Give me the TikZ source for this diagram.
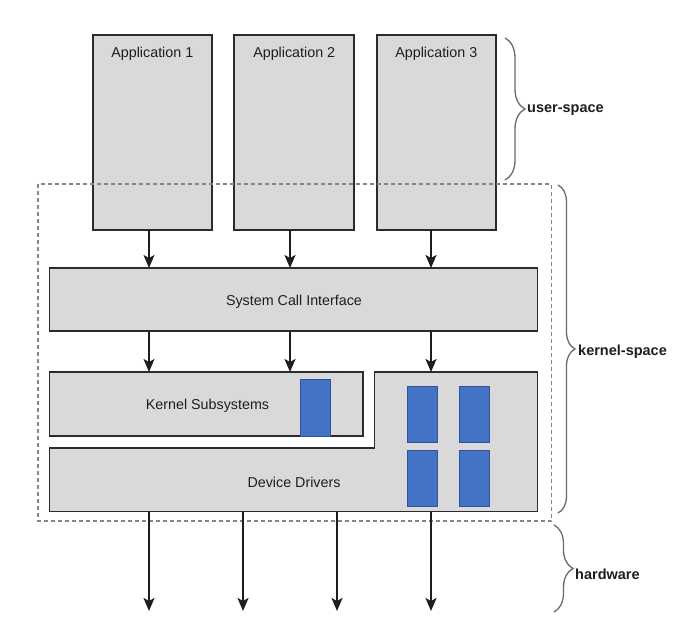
\documentclass[tikz,border=0pt]{standalone}
\usepackage{fontspec}
\setmainfont{Liberation Sans}
\usetikzlibrary{arrows.meta,decorations.pathreplacing}
\definecolor{boxgray}{HTML}{D9D9D9}
\definecolor{boxline}{HTML}{2B2B2B}
\definecolor{blk}{HTML}{4472C4}
\definecolor{blkline}{HTML}{2F5597}
\definecolor{dashgray}{HTML}{858585}
\definecolor{bracegray}{HTML}{6A6A6A}
\definecolor{txt}{HTML}{1E1E1E}
\begin{document}
\begin{tikzpicture}[x=1pt,y=-1pt,
  font=\fontsize{14.3}{17}\selectfont,
  graybox/.style={draw=boxline,fill=boxgray,line width=1.8pt,inner sep=0pt,outer sep=0pt},
  bluebox/.style={draw=blkline,fill=blk,line width=0.8pt,inner sep=0pt,outer sep=0pt,minimum width=30pt},
  arr/.style={draw=txt,line width=1.7pt,-{Stealth[length=13pt,width=11pt,inset=3pt]}},
  bracestyle/.style={draw=bracegray,line width=1.3pt,decorate,decoration={brace,amplitude=#1}},
  sidelabel/.style={anchor=west,font=\fontsize{14.5}{17}\selectfont\bfseries,text=txt,inner sep=0pt},
  boxlabel/.style={text=txt,inner sep=0pt}]
\useasboundingbox (0,0) rectangle (690,638);
\fill[white] (0,0) rectangle (690,638);

% applications
\node[graybox,minimum width=119pt,minimum height=195pt] (a1) at (152.3,132.5) {};
\node[graybox,minimum width=120pt,minimum height=195pt] (a2) at (294.2,132.5) {};
\node[graybox,minimum width=119pt,minimum height=195pt] (a3) at (436.3,132.5) {};
\node[boxlabel] (l1) at ([yshift=-18.5pt]a1.north) {Application 1};
\node[boxlabel] (l2) at ([yshift=-18.5pt]a2.north) {Application 2};
\node[boxlabel] (l3) at ([yshift=-18.5pt]a3.north) {Application 3};

% system call interface
\node[graybox,minimum width=488pt,minimum height=63pt] (sci) at (293.5,299.5) {};
\node[boxlabel] (scil) at (294,301.5) {System Call Interface};

% kernel subsystems
\node[graybox,minimum width=313.5pt,minimum height=64pt] (ks) at (206.25,404) {};
\node[boxlabel] (ksl) at (207.5,406) {Kernel Subsystems};
\node[bluebox,minimum height=57pt] (ksb) at (315,407.5) {};

% device drivers (L-shape)
\path[graybox] (49.5,448) -- (374.5,448) -- (374.5,372) -- (537.5,372)
  -- (537.5,511.5) -- (49.5,511.5) -- cycle;
\coordinate (ddtop) at (0,372);
\coordinate (ddb) at (0,511.5);
\node[boxlabel] (ddl) at (294,482) {Device Drivers};
\node[bluebox,minimum height=56pt] (b1) at (422,414) {};
\node[bluebox,minimum height=56pt] (b2) at (474,414) {};
\node[bluebox,minimum height=56pt] (b3) at (422,478) {};
\node[bluebox,minimum height=56pt] (b4) at (474,478) {};

% kernel-space dashed box
\draw[dashgray,line width=1.1pt,dash pattern=on 4pt off 3pt] (38,184) rectangle (551.5,521);

% arrows apps -> sci
\coordinate (c1) at (149,0);
\coordinate (c2) at (290,0);
\coordinate (c3) at (431,0);
\draw[arr] (c1 |- a1.south) -- (c1 |- sci.north);
\draw[arr] (c2 |- a2.south) -- (c2 |- sci.north);
\draw[arr] (c3 |- a3.south) -- (c3 |- sci.north);

% arrows sci -> ks / dd
\draw[arr] (c1 |- sci.south) -- (c1 |- ks.north);
\draw[arr] (c2 |- sci.south) -- (c2 |- ks.north);
\draw[arr] (c3 |- sci.south) -- (c3 |- ddtop);

% arrows dd -> hardware
\coordinate (h1) at (149,611);
\coordinate (h2) at (243,611);
\coordinate (h3) at (337,611);
\coordinate (h4) at (431,611);
\draw[arr] (h1 |- ddb) -- (h1);
\draw[arr] (h2 |- ddb) -- (h2);
\draw[arr] (h3 |- ddb) -- (h3);
\draw[arr] (h4 |- ddb) -- (h4);

% braces
\coordinate (u1) at (505,38);  \coordinate (u2) at (505,180);
\coordinate (k1) at (558,185); \coordinate (k2) at (558,513);
\coordinate (w1) at (554,525); \coordinate (w2) at (554,612);
\draw[bracestyle=20pt] (u1) -- (u2);
\draw[bracestyle=17pt] (k1) -- (k2);
\draw[bracestyle=19pt] (w1) -- (w2);
\node[sidelabel] (us) at (527,110) {user-space};
\node[sidelabel] (kspace) at (578,352) {kernel-space};
\node[sidelabel] (hw) at (575,574) {hardware};
\end{tikzpicture}
\end{document}
